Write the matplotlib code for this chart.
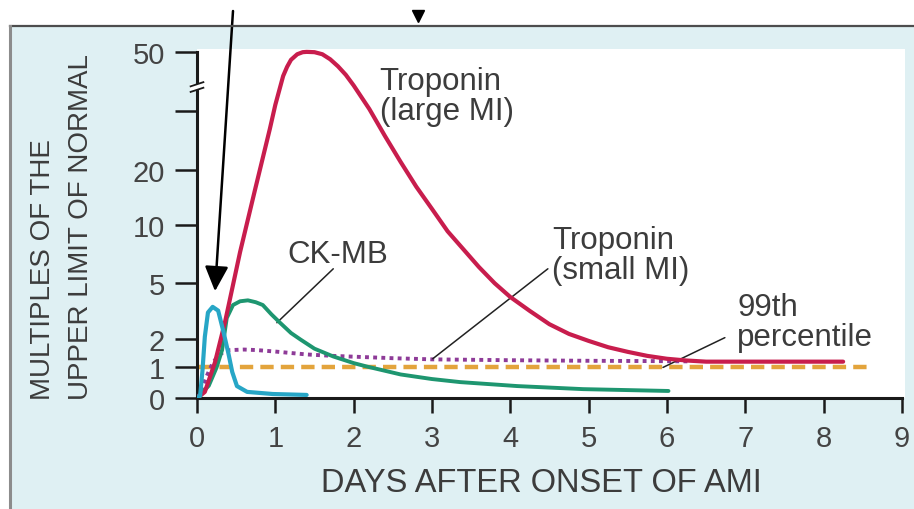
import numpy as np
import matplotlib.pyplot as plt
from matplotlib.patches import Rectangle
from matplotlib.lines import Line2D

plt.rcParams['font.family'] = ['Liberation Sans', 'DejaVu Sans']

# y axis is not linear: ticks are spaced evenly-ish, with a break below 50
y_ticks = [0, 1, 2, 5, 10, 20, 30, 50]
y_tick_labels = ['0', '1', '2', '5', '10', '20', '', '50']
y_tick_pos = [0, 0.53, 1.03, 2, 3, 3.96, 4.98, 6]
x_ticks = [0, 1, 2, 3, 4, 5, 6, 7, 8, 9]

# early marker (cyan)
early_days = [0, 0.04, 0.07, 0.10, 0.14, 0.20, 0.27, 0.33, 0.40, 0.45, 0.51, 0.64, 0.97, 1.40]
early_vals = [0, 0.07, 0.9, 2.1, 3.4, 3.7, 3.5, 2.5, 1.5, 0.85, 0.39, 0.2, 0.13, 0.1]

# CK-MB (green)
ckmb_days = [0, 0.15, 0.25, 0.32, 0.38, 0.46, 0.55, 0.65, 0.75, 0.84, 0.95, 1.06, 1.20, 1.32,
             1.50, 1.74, 2.00, 2.17, 2.60, 3.00, 3.36, 4.09, 4.93, 6.02]
ckmb_vals = [0, 0.4, 1.0, 1.6, 3.1, 3.8, 4.0, 4.05, 3.95, 3.8, 3.3, 2.85, 2.3, 1.97,
             1.65, 1.38, 1.15, 1.03, 0.77, 0.62, 0.52, 0.39, 0.29, 0.23]

# troponin, large MI (red)
trop_large_days = [0, 0.03, 0.10, 0.23, 0.36, 0.55, 0.74, 0.93, 1.00, 1.10, 1.15, 1.20, 1.28,
                   1.35, 1.40, 1.50, 1.60, 1.70, 1.80, 1.90, 2.00, 2.20, 2.40, 2.60, 2.80,
                   3.00, 3.20, 3.40, 3.60, 3.80, 4.00, 4.25, 4.50, 4.75, 5.00, 5.25, 5.50,
                   5.75, 6.00, 6.25, 6.50, 7.00, 7.50, 8.00, 8.25]
trop_large_vals = [0, 0.05, 0.2, 1.18, 2.93, 7.65, 16.3, 26.9, 32, 41.8, 44.9, 47.3, 49.2,
                   49.9, 50, 49.9, 49.2, 47.5, 45.1, 42.2, 38.6, 30.6, 25.7, 21.3, 16.9,
                   12.9, 9.45, 7.9, 6.35, 4.97, 4.23, 3.48, 2.77, 2.25, 1.92, 1.7, 1.54,
                   1.4, 1.3, 1.24, 1.2, 1.2, 1.2, 1.2, 1.2]

# troponin, small MI (purple dotted)
trop_small_days = [0, 0.06, 0.13, 0.20, 0.27, 0.33, 0.42, 0.60, 0.77, 1.00, 1.40, 1.74, 2.50,
                   3.00, 4.00, 5.00, 5.80, 6.30]
trop_small_vals = [0, 0.3, 0.75, 1.15, 1.4, 1.52, 1.6, 1.62, 1.6, 1.55, 1.45, 1.4, 1.32,
                   1.28, 1.25, 1.23, 1.22, 1.21]

# 99th percentile reference (orange dashed)
ref_days = [0.03, 8.6]
ref_vals = [1, 1]


def fwd(v):
    return np.interp(v, [-1] + y_ticks + [100], [-0.53] + y_tick_pos + [7])


def inv(p):
    return np.interp(p, [-0.53] + y_tick_pos + [7], [-1] + y_ticks + [100])


fig = plt.figure(figsize=(9.14, 5.10), dpi=100, facecolor='white')

# light blue panel, top rule and left border
fig.add_artist(Rectangle((10 / 914, 0), 1 - 10 / 914, 483 / 510, transform=fig.transFigure,
                         facecolor='#dff0f3', edgecolor='none', zorder=-5))
fig.add_artist(Line2D([10 / 914, 1], [483 / 510, 483 / 510], transform=fig.transFigure,
                      color='#4d4d4d', lw=1.6))
fig.add_artist(Line2D([10 / 914, 10 / 914], [0, 483 / 510], transform=fig.transFigure,
                      color='#8c8c8c', lw=2.2))

ax = fig.add_axes([197 / 914, 111 / 510, 708 / 914, 349 / 510])
ax.set_facecolor('white')
ax.set_yscale('function', functions=(fwd, inv))
ax.set_xlim(0, 9.04)
ax.set_ylim(0, 52.5)

ax.plot(ref_days, ref_vals, color='#e3a43c', lw=3.2, ls=(0, (3.0, 1.6)), zorder=2)
ax.plot(trop_small_days, trop_small_vals, color='#8e3b98', lw=2.8, ls=(0, (1, 1.1)), zorder=3)
ax.plot(ckmb_days, ckmb_vals, color='#1e9670', lw=2.8, zorder=4, solid_capstyle='round',
        solid_joinstyle='round')
ax.plot(trop_large_days, trop_large_vals, color='#c81d4d', lw=3.0, zorder=5,
        solid_capstyle='round', solid_joinstyle='round')
ax.plot(early_days, early_vals, color='#27a6c6', lw=3.0, zorder=6, solid_capstyle='round',
        solid_joinstyle='round')

ax.set_xticks(x_ticks)
ax.set_xticklabels([str(d) for d in x_ticks])
ax.set_yticks(y_ticks)
ax.set_yticklabels(y_tick_labels)
ax.yaxis.set_minor_locator(plt.NullLocator())
ax.tick_params(axis='y', direction='out', length=16, width=1.8, pad=7, labelsize=21,
               labelcolor='#444444', color='#1a1a1a')
ax.tick_params(axis='x', direction='out', length=11, width=1.8, pad=8, labelsize=21,
               labelcolor='#444444', color='#1a1a1a')
for s in ['top', 'right']:
    ax.spines[s].set_visible(False)
for s in ['left', 'bottom']:
    ax.spines[s].set_linewidth(2.2)
    ax.spines[s].set_color('#1a1a1a')
ax.spines['left'].set_bounds(0, 50)
ax.spines['bottom'].set_bounds(0, 9)

# axis break mark on the y axis
yb = 0.891
ax.add_patch(Rectangle((-0.01, yb - 0.008), 0.02, 0.016, transform=ax.transAxes,
                       facecolor='white', edgecolor='none', clip_on=False, zorder=10))
for dy in (-0.008, 0.008):
    ax.plot([-0.009, 0.009], [yb + dy - 0.006, yb + dy + 0.006], transform=ax.transAxes,
            color='#1a1a1a', lw=1.3, clip_on=False, zorder=11)

# labels
tc = '#3c3c3c'
ax.text(0.258, 0.950, 'Troponin\n(large MI)', transform=ax.transAxes, fontsize=22.5,
        color=tc, va='top', ha='left', linespacing=1.0)
ax.text(0.127, 0.455, 'CK-MB', transform=ax.transAxes, fontsize=22.5, color=tc,
        va='top', ha='left')
ax.text(0.502, 0.497, 'Troponin\n(small MI)', transform=ax.transAxes, fontsize=22.5,
        color=tc, va='top', ha='left', linespacing=1.0)
ax.text(0.763, 0.305, '99th\npercentile', transform=ax.transAxes, fontsize=22.5,
        color=tc, va='top', ha='left', linespacing=1.0)

# leader lines
lead = dict(arrowstyle='-', color='#222222', lw=1.1, shrinkA=0, shrinkB=0)
ax.annotate('', xy=(1.02, 2.85), xytext=(1.74, 6.2), arrowprops=lead)
ax.annotate('', xy=(3.01, 1.3), xytext=(4.48, 6.2), arrowprops=lead)
ax.annotate('', xy=(5.95, 1.0), xytext=(6.74, 2.05), arrowprops=lead)

# big arrow from above pointing at the early peak
ax.annotate('', xy=(0.23, 4.54), xytext=(233, 498), textcoords='figure pixels',
            arrowprops=dict(arrowstyle='-|>,head_length=0.95,head_width=0.45',
                            mutation_scale=16, lw=1.8, color='black', shrinkA=0, shrinkB=0),
            annotation_clip=False)
fig.add_artist(Line2D([418 / 914], [1 - 17 / 510], transform=fig.transFigure, marker='v',
                      markersize=9, color='black', lw=0))

fig.text(43 / 914, 110 / 510, 'MULTIPLES OF THE', rotation=90, ha='center', va='bottom',
         fontsize=20, color=tc)
fig.text(81 / 914, 110 / 510, 'UPPER LIMIT OF NORMAL', rotation=90, ha='center', va='bottom',
         fontsize=20, color=tc)
fig.text(541 / 914, 26 / 510, 'DAYS AFTER ONSET OF AMI', ha='center', va='center',
         fontsize=23.5, color=tc)

fig.savefig('out.png', dpi=100)
